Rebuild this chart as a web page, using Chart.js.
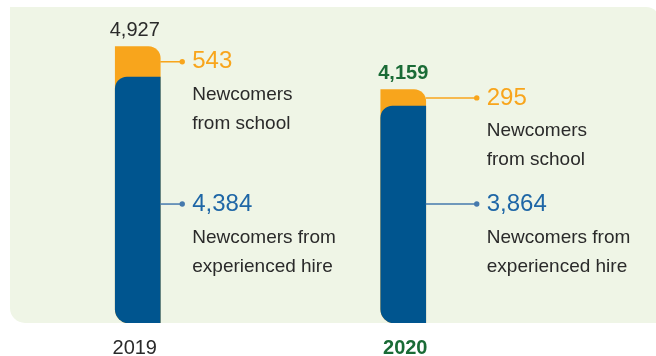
<!DOCTYPE html>
<html>
<head>
<meta charset="utf-8">
<script src="https://cdn.jsdelivr.net/npm/chart.js@4"></script>
<style>
  html, body { margin: 0; padding: 0; background: #ffffff; }
  canvas { display: block; }
</style>
</head>
<body>
<canvas id="c" width="656" height="356"></canvas>
<script>
const years = ['2019', '2020'];
const fromSchool = [543, 295];
const experiencedHire = [4384, 3864];
const totals = [4927, 4159];
const schoolLabel = ['Newcomers', 'from school'];
const hireLabel = ['Newcomers from', 'experienced hire'];

const FONT = "'Liberation Sans', Arial, sans-serif";
const C_PANEL = '#eff5e6';
const C_ORANGE = '#f8a51c';
const C_BLUE = '#00558f';
const C_BLUE_TEXT = '#1e66a6';
const C_BLUE_LINE = '#4579ad';
const C_GREEN = '#1a6b36';
const C_TEXT = '#2a2a2a';

function roundRectPath(ctx, x, y, w, h, r) {
  ctx.beginPath();
  ctx.moveTo(x, y);
  ctx.lineTo(x + w - r.tr, y);
  ctx.arcTo(x + w, y, x + w, y + r.tr, r.tr);
  ctx.lineTo(x + w, y + h - r.br);
  ctx.arcTo(x + w, y + h, x + w - r.br, y + h, r.br);
  ctx.lineTo(x + r.bl, y + h);
  ctx.arcTo(x, y + h, x, y + h - r.bl, r.bl);
  ctx.lineTo(x, y + r.tl);
  ctx.arcTo(x, y, x + r.tl, y, r.tl);
  ctx.closePath();
}

const panelPlugin = {
  id: 'panel',
  beforeDraw(chart) {
    const ctx = chart.ctx;
    const yS = chart.scales.y;
    const bottom = yS.getPixelForValue(0);
    ctx.save();
    ctx.fillStyle = C_PANEL;
    roundRectPath(ctx, 10, 7, 660 - 10, bottom - 7, {tl: 0, tr: 14, br: 0, bl: 15});
    ctx.fill();
    ctx.restore();
  }
};

const dotOffsets = [22, 51];
const labelShift = [-3, 2];
const blueAnchorValue = 2120;

const annotatePlugin = {
  id: 'annotate',
  afterDatasetsDraw(chart) {
    const ctx = chart.ctx;
    const yS = chart.scales.y;
    const xS = chart.scales.x;
    const meta = chart.getDatasetMeta(0);
    ctx.save();
    years.forEach((yr, i) => {
      const bar = meta.data[i];
      const cx = xS.getPixelForValue(i);
      const right = bar.x + bar.width / 2;
      const dotX = right + dotOffsets[i];
      const textX = dotX + 10;

      // total label
      const topY = yS.getPixelForValue(totals[i]);
      ctx.textAlign = 'center';
      ctx.textBaseline = 'middle';
      if (i === 1) {
        ctx.font = 'bold 20px ' + FONT;
        ctx.fillStyle = C_GREEN;
      } else {
        ctx.font = '20px ' + FONT;
        ctx.fillStyle = C_TEXT;
      }
      ctx.fillText(totals[i].toLocaleString('en-US'), cx + (i === 0 ? -3 : 0), topY - 16.5);

      // year label
      ctx.fillText(yr, cx + labelShift[i], yS.getPixelForValue(0) + 25);

      // orange annotation
      const oy = (yS.getPixelForValue(totals[i]) + yS.getPixelForValue(experiencedHire[i])) / 2;
      ctx.strokeStyle = C_ORANGE;
      ctx.fillStyle = C_ORANGE;
      ctx.lineWidth = 1.5;
      ctx.beginPath();
      ctx.moveTo(right, oy);
      ctx.lineTo(dotX, oy);
      ctx.stroke();
      ctx.beginPath();
      ctx.arc(dotX, oy, 2.7, 0, Math.PI * 2);
      ctx.fill();
      ctx.textAlign = 'left';
      ctx.textBaseline = 'middle';
      ctx.font = '24px ' + FONT;
      ctx.fillText(String(fromSchool[i]), textX, oy);
      ctx.fillStyle = C_TEXT;
      ctx.font = '19px ' + FONT;
      ctx.textBaseline = 'alphabetic';
      ctx.fillText(schoolLabel[0], textX, oy + 38);
      ctx.fillText(schoolLabel[1], textX, oy + 67.5);

      // blue annotation
      const by = yS.getPixelForValue(blueAnchorValue);
      ctx.strokeStyle = C_BLUE_LINE;
      ctx.fillStyle = C_BLUE_LINE;
      ctx.beginPath();
      ctx.moveTo(right, by);
      ctx.lineTo(dotX, by);
      ctx.stroke();
      ctx.beginPath();
      ctx.arc(dotX, by, 2.7, 0, Math.PI * 2);
      ctx.fill();
      ctx.fillStyle = C_BLUE_TEXT;
      ctx.font = '24px ' + FONT;
      ctx.textBaseline = 'middle';
      ctx.fillText(experiencedHire[i].toLocaleString('en-US'), textX, by);
      ctx.fillStyle = C_TEXT;
      ctx.font = '19px ' + FONT;
      ctx.textBaseline = 'alphabetic';
      ctx.fillText(hireLabel[0], textX, by + 38.5);
      ctx.fillText(hireLabel[1], textX, by + 68);
    });
    ctx.restore();
  }
};

new Chart(document.getElementById('c'), {
  type: 'bar',
  data: {
    labels: years,
    datasets: [
      {
        label: 'Newcomers from experienced hire',
        data: experiencedHire,
        backgroundColor: C_BLUE,
        borderRadius: {topLeft: 12, topRight: 0, bottomLeft: 14, bottomRight: 0},
        borderSkipped: false,
        barThickness: 45,
        grouped: false
      },
      {
        label: 'Newcomers from school',
        data: totals.map((t) => [0, t]),
        backgroundColor: C_ORANGE,
        borderRadius: {topLeft: 0, topRight: 12, bottomLeft: 14, bottomRight: 0},
        borderSkipped: false,
        barThickness: 45,
        grouped: false
      }
    ]
  },
  options: {
    responsive: false,
    devicePixelRatio: 1,
    animation: false,
    layout: { padding: { left: 5, right: 120, top: 20, bottom: 33 } },
    plugins: { legend: { display: false }, tooltip: { enabled: false } },
    scales: {
      x: { display: false, offset: true },
      y: { display: false, min: 0, max: 5400 }
    }
  },
  plugins: [panelPlugin, annotatePlugin]
});
</script>
</body>
</html>
